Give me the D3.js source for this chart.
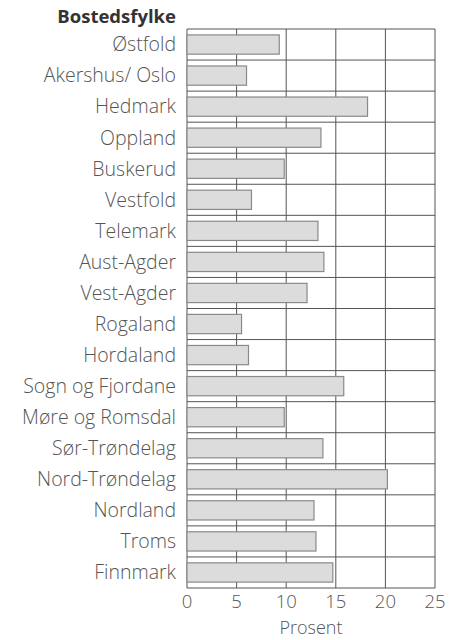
<!DOCTYPE html>
<html>
<head>
<meta charset="utf-8">
<script src="https://cdn.jsdelivr.net/npm/d3@7"></script>
<style>
  body { margin: 0; background: #fff; }
  text { font-family: "Open Sans", sans-serif; }
</style>
</head>
<body>
<div id="chart"></div>
<script>
// Fylker, top to bottom
const counties = [
  "Østfold", "Akershus/ Oslo", "Hedmark", "Oppland", "Buskerud", "Vestfold",
  "Telemark", "Aust-Agder", "Vest-Agder", "Rogaland", "Hordaland",
  "Sogn og Fjordane", "Møre og Romsdal", "Sør-Trøndelag", "Nord-Trøndelag",
  "Nordland", "Troms", "Finnmark"
];
// Percent per county
const percents = [
  9.3, 6.0, 18.2, 13.5, 9.8, 6.5,
  13.2, 13.8, 12.1, 5.5, 6.2,
  15.8, 9.8, 13.7, 20.2,
  12.8, 13.0, 14.7
];
const xTicks = [0, 5, 10, 15, 20, 25];

const width = 461, height = 640;
const margin = { top: 29, right: 26, bottom: 52, left: 187 };
const labelColor = "#555";

const svg = d3.select("#chart").append("svg")
  .attr("width", width)
  .attr("height", height);

const x = d3.scaleLinear()
  .domain([0, 25])
  .range([margin.left, width - margin.right]);

const y = d3.scaleBand()
  .domain(counties)
  .range([margin.top, height - margin.bottom])
  .paddingInner(0.38)
  .paddingOuter(0.19);

// grid: vertical lines
svg.append("g")
  .selectAll("line")
  .data(xTicks)
  .join("line")
  .attr("x1", d => x(d)).attr("x2", d => x(d))
  .attr("y1", margin.top).attr("y2", height - margin.bottom)
  .attr("stroke", "#555")
  .attr("stroke-width", 1);

// grid: horizontal row boundaries
const rowH = (height - margin.top - margin.bottom) / counties.length;
const rowEdges = d3.range(counties.length + 1).map(i => margin.top + i * rowH);
svg.append("g")
  .selectAll("line")
  .data(rowEdges)
  .join("line")
  .attr("x1", x(0)).attr("x2", x(25))
  .attr("y1", d => d).attr("y2", d => d)
  .attr("stroke", "#555")
  .attr("stroke-width", 1);

// bars
svg.append("g")
  .selectAll("rect")
  .data(counties)
  .join("rect")
  .attr("x", x(0))
  .attr("y", d => y(d))
  .attr("width", (d, i) => x(percents[i]) - x(0))
  .attr("height", y.bandwidth())
  .attr("fill", "#dcdcdc")
  .attr("stroke", "#8a8a8a")
  .attr("stroke-width", 1.2);

// county labels
svg.append("g")
  .selectAll("text")
  .data(counties)
  .join("text")
  .attr("x", 176)
  .attr("y", d => y(d) + y.bandwidth() / 2)
  .attr("dy", "0.35em")
  .attr("text-anchor", "end")
  .attr("font-size", 19.5)
  .attr("font-weight", 300)
  .attr("fill", labelColor)
  .text(d => d);

// title
svg.append("text")
  .attr("x", 176)
  .attr("y", 23)
  .attr("text-anchor", "end")
  .attr("font-size", 18.5)
  .attr("font-weight", 700)
  .attr("fill", "#333")
  .text("Bostedsfylke");

// x tick labels
svg.append("g")
  .selectAll("text")
  .data(xTicks)
  .join("text")
  .attr("x", d => x(d))
  .attr("y", 608)
  .attr("text-anchor", "middle")
  .attr("font-size", 18.5)
  .attr("font-weight", 300)
  .attr("fill", labelColor)
  .text(d => d);

// x axis title
svg.append("text")
  .attr("x", x(12.5))
  .attr("y", 634)
  .attr("text-anchor", "middle")
  .attr("font-size", 18)
  .attr("font-weight", 300)
  .attr("fill", labelColor)
  .text("Prosent");
</script>
</body>
</html>
